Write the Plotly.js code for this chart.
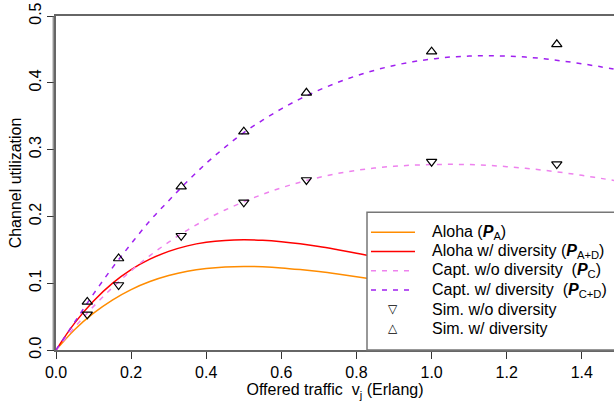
<!DOCTYPE html>
<html>
<head>
<meta charset="utf-8">
<script src="https://cdn.plot.ly/plotly-3.0.1.min.js"></script>
<style>
  html, body { margin: 0; padding: 0; background: #fff; overflow: hidden; }
  #chart { width: 614px; height: 401px; }
</style>
</head>
<body>
<div id="chart"></div>
<script>
// Offered traffic grid (Erlang)
const traffic = [0, 0.05, 0.1, 0.15, 0.2, 0.25, 0.3, 0.35, 0.4, 0.45, 0.5, 0.55, 0.6, 0.65, 0.7, 0.75,
                 0.8, 0.85, 0.9, 0.95, 1.0, 1.05, 1.1, 1.15, 1.2, 1.25, 1.3, 1.35, 1.4, 1.45, 1.5];
// Aloha (P_A)
const alohaPA = [0, 0.0308, 0.0552, 0.0748, 0.0905, 0.1025, 0.1115, 0.1180, 0.1221, 0.1244, 0.1251, 0.1245,
                 0.1229, 0.1204, 0.1174, 0.1138, 0.1098, 0.1056, 0.1012, 0.0966, 0.0920, 0.0874, 0.0829,
                 0.0785, 0.0741, 0.0698, 0.0656, 0.0617, 0.0579, 0.0543, 0.0508];
// Aloha w/ diversity (P_A+D)
const alohaPAD = [0, 0.0406, 0.0734, 0.0997, 0.1203, 0.1360, 0.1476, 0.1559, 0.1612, 0.1641, 0.1650, 0.1642,
                  0.1621, 0.1589, 0.1548, 0.1500, 0.1449, 0.1393, 0.1335, 0.1275, 0.1214, 0.1153, 0.1093,
                  0.1034, 0.0977, 0.0920, 0.0866, 0.0814, 0.0763, 0.0716, 0.0670];
// Capture w/o diversity (P_C)
const captPC = [0, 0.0342, 0.0653, 0.0932, 0.1186, 0.1413, 0.1615, 0.1795, 0.1955, 0.2095, 0.2220, 0.2330,
                0.2428, 0.2512, 0.2583, 0.2643, 0.2690, 0.2725, 0.2750, 0.2767, 0.2776, 0.2779, 0.2776,
                0.2764, 0.2745, 0.2720, 0.2690, 0.2655, 0.2615, 0.2570, 0.2525];
// Capture w/ diversity (P_C+D)
const captPCD = [0, 0.042, 0.084, 0.123, 0.159, 0.1935, 0.2235, 0.2525, 0.2795, 0.3035, 0.3255, 0.344,
                 0.361, 0.376, 0.389, 0.4005, 0.4105, 0.419, 0.426, 0.4315, 0.4355, 0.4385, 0.440,
                 0.4405, 0.4400, 0.4385, 0.436, 0.4325, 0.4285, 0.424, 0.419];
// Simulation points
const simTraffic = [0.0833, 0.1667, 0.3333, 0.5, 0.6667, 1.0, 1.3333];
const simNoDiv   = [0.0534, 0.0973, 0.171, 0.221, 0.2545, 0.2819, 0.2784];
const simDiv     = [0.072, 0.137, 0.2445, 0.3268, 0.385, 0.4466, 0.4576];

const xTicks = [0, 0.2, 0.4, 0.6, 0.8, 1.0, 1.2, 1.4];
const yTicks = [0, 0.1, 0.2, 0.3, 0.4, 0.5];

const legendNames = [
  'Aloha (<b><i>P</i></b><sub>A</sub>)',
  'Aloha w/ diversity (<b><i>P</i></b><sub>A+D</sub>)',
  'Capt. w/o diversity\u00a0 (<b><i>P</i></b><sub>C</sub>)',
  'Capt. w/ diversity\u00a0 (<b><i>P</i></b><sub>C+D</sub>)',
  'Sim. w/o diversity',
  'Sim. w/ diversity'
];

const FONT = 'Liberation Sans, Arial, Helvetica, sans-serif';
const C_ORANGE = '#FF8C00', C_RED = '#FF0000', C_VIOLET = '#EE82EE', C_PURPLE = '#A020F0';
const DASH = '5px,6px';

const traces = [
  {x: traffic, y: alohaPA, mode: 'lines', line: {color: C_ORANGE, width: 1.5, shape: 'spline'}, name: legendNames[0], showlegend: false},
  {x: traffic, y: alohaPAD, mode: 'lines', line: {color: C_RED, width: 1.5, shape: 'spline'}, name: legendNames[1], showlegend: false},
  {x: traffic, y: captPC, mode: 'lines', line: {color: C_VIOLET, width: 1.5, dash: DASH, shape: 'spline'}, name: legendNames[2], showlegend: false},
  {x: traffic, y: captPCD, mode: 'lines', line: {color: C_PURPLE, width: 1.5, dash: DASH, shape: 'spline'}, name: legendNames[3], showlegend: false},
  {x: simTraffic, y: simNoDiv, mode: 'markers', marker: {symbol: 'triangle-down-open', size: 9, color: '#000', line: {width: 1.2, color: '#000'}}, name: legendNames[4], showlegend: false, cliponaxis: false},
  {x: simTraffic, y: simDiv, mode: 'markers', marker: {symbol: 'triangle-up-open', size: 9, color: '#000', line: {width: 1.2, color: '#000'}}, name: legendNames[5], showlegend: false, cliponaxis: false}
];

// Manual legend (box, line samples, symbols, labels) in paper coordinates
const W = 558, H = 334; // plot area size in px
const px = v => (v - 56) / W;
const py = v => (350 - v) / H;
const rows = [232.3, 251.5, 270.7, 290, 309.2, 328.4];
const shapes = [
  {type: 'rect', xref: 'paper', yref: 'paper', x0: px(367), x1: 1.05, y0: 0, y1: py(212.3),
   fillcolor: '#fff', line: {color: '#777', width: 1.5}, layer: 'above'},
  {type: 'line', xref: 'paper', yref: 'paper', x0: px(53.2), x1: px(53.2), y0: 0, y1: 1,
   line: {color: '#666', width: 1}, layer: 'above'}
];
const sampleStyles = [
  {color: C_ORANGE, dash: 'solid'}, {color: C_RED, dash: 'solid'},
  {color: C_VIOLET, dash: DASH}, {color: C_PURPLE, dash: DASH}
];
sampleStyles.forEach((s, i) => {
  shapes.push({type: 'line', xref: 'paper', yref: 'paper', x0: px(371), x1: px(415), y0: py(rows[i]), y1: py(rows[i]),
               line: {color: s.color, width: 1.5, dash: s.dash}, layer: 'above'});
});
const annotations = legendNames.map((t, i) => ({
  xref: 'paper', yref: 'paper', x: px(430), y: py(rows[i]), xanchor: 'left', yanchor: 'middle',
  text: t, showarrow: false, font: {family: FONT, size: 16, color: '#000'}
}));
annotations.push({xref: 'paper', yref: 'paper', x: px(393), y: py(rows[4]), xanchor: 'center', yanchor: 'middle',
  text: '\u25BD', showarrow: false, font: {family: 'DejaVu Sans', size: 12, color: '#000'}});
annotations.push({xref: 'paper', yref: 'paper', x: px(393), y: py(rows[5]), xanchor: 'center', yanchor: 'middle',
  text: '\u25B3', showarrow: false, font: {family: 'DejaVu Sans', size: 12, color: '#000'}});

const layout = {
  width: 614, height: 401,
  margin: {l: 56, r: 0, t: 16, b: 51, pad: 0},
  paper_bgcolor: '#fff', plot_bgcolor: '#fff',
  font: {family: FONT, size: 16, color: '#000'},
  showlegend: false,
  xaxis: {
    range: [0, 1.4856], tickvals: xTicks, ticktext: xTicks.map(v => v.toFixed(1)),
    ticks: 'outside', ticklen: 7, tickwidth: 1, tickcolor: '#333',
    showline: true, linecolor: '#666', linewidth: 2, mirror: true,
    showgrid: false, zeroline: false, automargin: false,
    tickfont: {family: FONT, size: 16, color: '#000'},
    title: {text: 'Offered traffic\u00a0 v<sub>j</sub> (Erlang)', font: {family: FONT, size: 16, color: '#000'}, standoff: 2}
  },
  yaxis: {
    range: [0, 0.5], tickvals: yTicks, ticktext: yTicks.map(v => v.toFixed(1)),
    ticks: 'outside', ticklen: 7, tickwidth: 1, tickcolor: '#333', tickangle: -90,
    showline: true, linecolor: '#666', linewidth: 2, mirror: false,
    showgrid: false, zeroline: false, automargin: false,
    tickfont: {family: FONT, size: 16, color: '#000'},
    title: {text: 'Channel utilization', font: {family: FONT, size: 16, color: '#000'}, standoff: 1}
  },
  shapes: shapes,
  annotations: annotations
};

Plotly.newPlot('chart', traces, layout, {displayModeBar: false});
</script>
</body>
</html>
